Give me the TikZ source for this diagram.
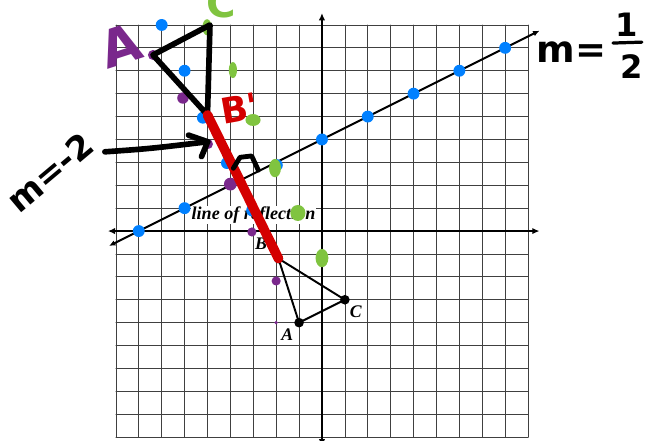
\documentclass[tikz,border=0pt]{standalone}
\usepackage{fontspec}
\setmainfont{Liberation Serif}
\newfontfamily\handfont{DejaVu Sans}
\usetikzlibrary{arrows.meta}
\definecolor{dotblue}{RGB}{0,128,255}
\definecolor{dotgreen}{RGB}{128,196,64}
\definecolor{dotpurple}{RGB}{122,40,140}
\definecolor{markred}{RGB}{212,0,0}

\begin{document}
\begin{tikzpicture}[x=1cm, y=1cm, line cap=round, line join=round,
    hand/.style={font=\handfont\bfseries\fontsize{#1}{#1}\selectfont, inner sep=0pt},
    ptlabel/.style={font=\fontsize{22}{22}\selectfont\bfseries\itshape, inner sep=0pt}]
  \useasboundingbox (-14.06,-9.13) rectangle (14.50,10.09);

  % graph paper and axes
  \draw[black!75, line width=0.9pt] (-9,-9) grid (9,9);
  \coordinate (xl) at (-9.35,0); \coordinate (xr) at (9.5,0);
  \coordinate (yb) at (0,-9.4);  \coordinate (yt) at (0,9.52);
  \draw[line width=3pt, {Latex[length=9pt,width=8pt]}-{Latex[length=9pt,width=8pt]}] (xl) -- (xr);
  \draw[line width=3pt, {Latex[length=9pt,width=8pt]}-{Latex[length=9pt,width=8pt]}] (yb) -- (yt);

  % line of reflection
  \coordinate (rl) at (-9.3,-0.65); \coordinate (rr) at (9.5,8.75);
  \draw[line width=2.4pt, {Latex[length=8pt,width=7pt]}-{Latex[length=8pt,width=7pt]}] (rl) -- (rr);
  \node[fill=white, inner sep=1pt, font=\fontsize{22.5}{22.5}\selectfont\bfseries\itshape] (refl) at (-2.99,0.7) {line of reflection};

  % triangle ABC
  \coordinate (A) at (-1,-4); \coordinate (B) at (-1.9,-1.2); \coordinate (C) at (1,-3);
  \draw[line width=2.4pt] (A) -- (B) -- (C) -- cycle;
  \foreach \p in {A,B,C} \fill (\p) circle (0.21);
  \node[ptlabel] (A-lbl) at (-1.51,-4.51) {A};
  \node[ptlabel] (B-lbl) at (-2.66,-0.55) {B};
  \node[ptlabel] (C-lbl) at (1.48,-3.52) {C};

  % marker dots
  \foreach \x/\y in {-8/0, -6/1, 0/4, 2/5, 4/6, 6/7, 8/8, -7/9, -6/7, -5.2/4.95, -4.15/2.97, -1.97/2.88, -3.05/0.9}
    \fill[dotblue] (\x,\y) circle (0.26);
  \foreach \x/\y/\a/\b in {-5.02/8.9/0.2/0.35, -3.89/7.03/0.18/0.35, -3.01/4.85/0.33/0.26,
                           -2.05/2.75/0.26/0.4, -1.05/0.79/0.33/0.35, 0/-1.18/0.28/0.4}
    \fill[dotgreen] (\x,\y) ellipse [x radius=\a, y radius=\b];
  \foreach \x/\y/\r in {-7.38/7.69/0.22, -6.07/5.81/0.25, -4.98/3.8/0.22, -4.0/2.05/0.28,
                        -3.06/-0.04/0.2, -2.0/-2.18/0.2, -2.0/-4.0/0.08}
    \fill[dotpurple] (\x,\y) circle (\r);

  % reflected triangle
  \coordinate (Ap) at (-7.38,7.69); \coordinate (Cp) at (-4.89,9.0); \coordinate (Bp) at (-5.0,5.07);
  \draw[line width=7pt] (Ap) -- (Cp) -- (Bp) -- cycle;
  \draw[markred, line width=12pt] (Bp) -- (B);

  % pointer and right angle
  \coordinate (arr-start) at (-9.48,3.46); \coordinate (arr-tip) at (-4.99,3.90);
  \coordinate (barb-up) at (-5.83,4.19); \coordinate (barb-dn) at (-5.26,3.25);
  \draw[line width=7pt] (arr-start) .. controls (-7.5,3.6) .. (arr-tip);
  \draw[line width=7pt] (barb-up) -- (arr-tip) -- (barb-dn);
  \draw[line width=6pt] (-3.87,2.74) -- (-3.58,3.22) -- (-3.07,3.28) -- (-2.78,2.66);

  % handwriting
  \node[hand=64, dotpurple, rotate=18] (A-hand) at (-8.78,8.12) {A};
  \node[hand=50, dotgreen] (C-hand) at (-4.41,9.96) {C};
  \node[hand=44, markred, rotate=10] (B-hand) at (-3.6,5.35) {B'};
  \node[hand=42, rotate=40] (m-perp) at (-11.88,2.58) {m=-2};
  \node[hand=46] (m-half) at (10.9,7.82) {m=};
  \node[hand=40] (half-num) at (13.32,9.0) {1};
  \node[hand=40] (half-den) at (13.54,7.2) {2};
  \coordinate (bar-l) at (12.71,8.21); \coordinate (bar-r) at (13.97,8.25);
  \draw[line width=4pt] (bar-l) -- (bar-r);
\end{tikzpicture}
\end{document}
